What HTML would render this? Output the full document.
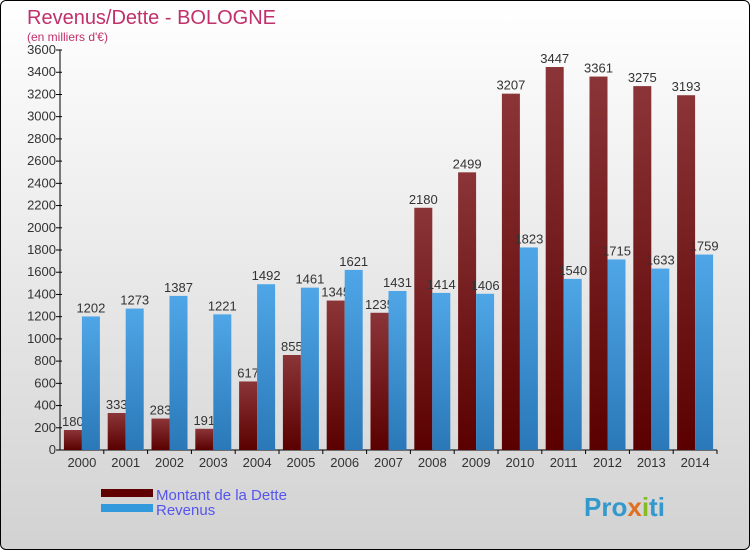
<!DOCTYPE html>
<html><head><meta charset="utf-8"><style>
body{margin:0;}
#wrap{position:relative;width:748px;height:548px;border:1px solid #000;border-radius:6px;background:linear-gradient(#ffffff,#d2d2d2);overflow:hidden;font-family:"Liberation Sans",sans-serif;}
svg text{font-family:"Liberation Sans",sans-serif;}
</style></head><body>
<div id="wrap">
<svg id="chart" width="748" height="548">
<defs>
<linearGradient id="gd" x1="0" y1="0" x2="0" y2="1"><stop offset="0" stop-color="#8b3538"/><stop offset="1" stop-color="#5a0000"/></linearGradient>
<linearGradient id="gr" x1="0" y1="0" x2="0" y2="1"><stop offset="0" stop-color="#4fa6e6"/><stop offset="1" stop-color="#2a78b8"/></linearGradient>
</defs>
<text x="26" y="23" font-size="20" fill="#c0306a">Revenus/Dette - BOLOGNE</text>
<text x="26" y="40" font-size="12" fill="#c0306a">(en milliers d'€)</text>
<g id="axes"></g><g id="bars"></g>
<rect x="100" y="488" width="52" height="8" fill="#600000"/>
<rect x="100" y="503" width="52" height="8" fill="#3399dd"/>
<text x="155" y="499" font-size="15" fill="#5555ee">Montant de la Dette</text>
<text x="155" y="514" font-size="15" fill="#5555ee">Revenus</text>
<text x="583" y="515" font-size="26" font-weight="bold" fill="#3399cc">Pro<tspan fill="#e07020">x</tspan><tspan fill="#88bb22">i</tspan>ti</text>
</svg></div>
<script>
const years=["2000","2001","2002","2003","2004","2005","2006","2007","2008","2009","2010","2011","2012","2013","2014"];
const dette=[180,333,283,191,617,855,1345,1235,2180,2499,3207,3447,3361,3275,3193];
const revenus=[1202,1273,1387,1221,1492,1461,1621,1431,1414,1406,1823,1540,1715,1633,1759];
const ticks=[0,200,400,600,800,1000,1200,1400,1600,1800,2000,2200,2400,2600,2800,3000,3200,3400,3600];
const NS="http://www.w3.org/2000/svg";
const x0=59,slot=43.8,yz=449,ys=400/3600;
const Y=v=>yz-v*ys, X=i=>x0+i*slot;
function mk(t,a,p){const e=document.createElementNS(NS,t);for(const k in a)e.setAttribute(k,a[k]);p.appendChild(e);return e;}
const ax=document.getElementById('axes'),bg=document.getElementById('bars');
const yl=mk('line',{x1:x0,y1:Y(3600),x2:x0,y2:yz,stroke:'#000'},ax);


const xl=mk('line',{x1:x0,y1:yz,x2:x0+15*slot,y2:yz,stroke:'#000'},ax);


ticks.forEach(t=>{
 mk('line',{x1:x0-4,x2:x0+2,y1:Y(t),y2:Y(t),stroke:'#000'},ax);
 const tx=mk('text',{x:x0-4,y:Y(t)+4,'font-size':13,'text-anchor':'end',fill:'#333'},ax);
 tx.textContent=t;
 
 
});
years.forEach((yr,i)=>{
 const c=X(i)+slot/2;
 mk('line',{x1:X(i)+slot,x2:X(i)+slot,y1:yz,y2:yz+4,stroke:'#000'},ax);
 const tl=mk('text',{x:c,y:yz+17,'font-size':13,'text-anchor':'middle',fill:'#333'},ax);
 tl.textContent=yr;
 
 
 const l1=mk('text',{x:c-9,y:Y(dette[i])-4,'font-size':13,'text-anchor':'middle',fill:'#333'},bg);
 l1.textContent=dette[i];
 
 
 const b1=mk('rect',{x:c-18,y:Y(dette[i]),width:18,height:dette[i]*ys,fill:'url(#gd)'},bg);
 
 
 const b2=mk('rect',{x:c,y:Y(revenus[i]),width:18,height:revenus[i]*ys,fill:'url(#gr)'},bg);
 
 
 const l2=mk('text',{x:c+9,y:Y(revenus[i])-4,'font-size':13,'text-anchor':'middle',fill:'#333'},bg);
 l2.textContent=revenus[i];
 
 
});
</script>
</body></html>
